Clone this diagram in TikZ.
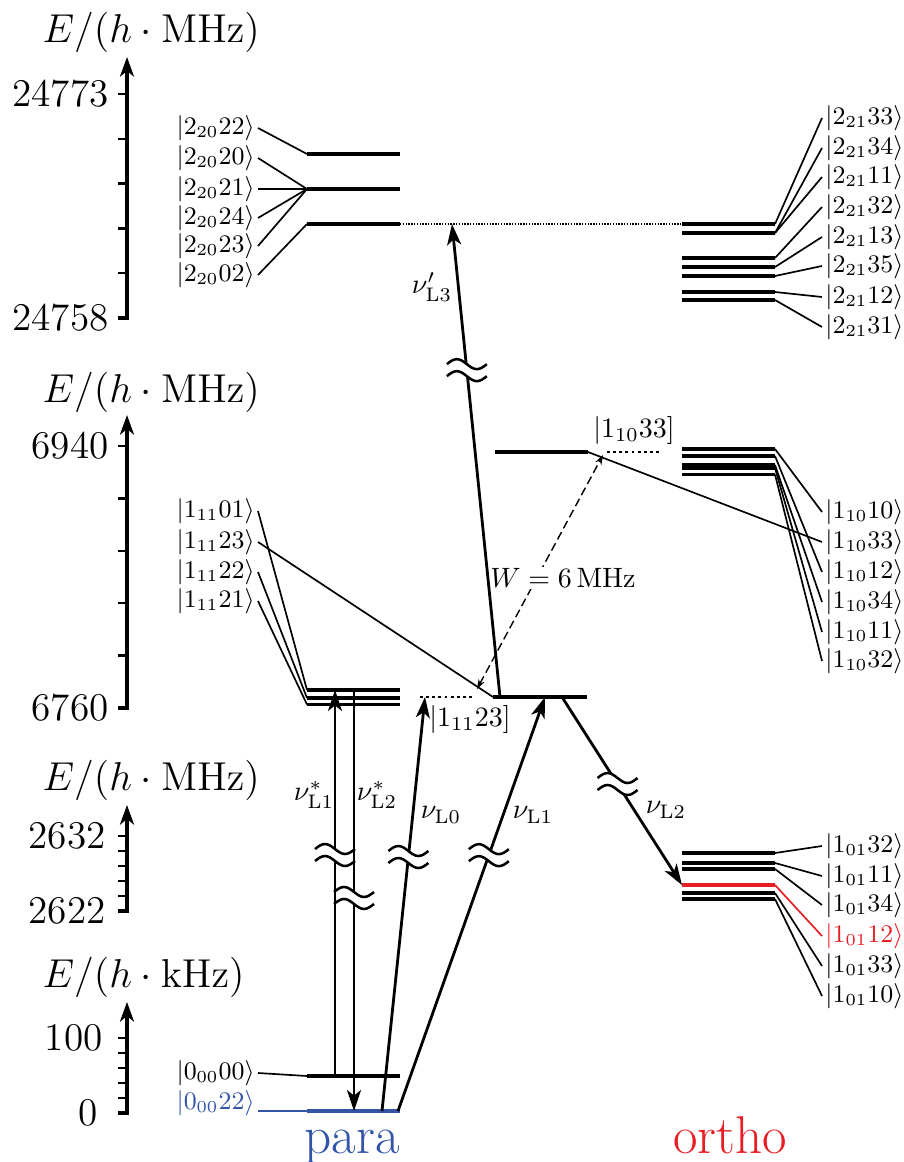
\documentclass[tikz,border=0pt]{standalone}
\usepackage{amsmath,amssymb}
\usepackage{xcolor}
\usepackage{tikz}
\usetikzlibrary{arrows.meta,calc}
\definecolor{paracol}{RGB}{52,84,168}
\definecolor{orthocol}{RGB}{232,30,36}

\begin{document}
\begin{tikzpicture}[
  x=0.3571pt, y=-0.3571pt,
  font=\fontsize{10}{12}\selectfont,
  lvl/.style={line width=1.1pt},
  con/.style={line width=0.6pt},
  ax/.style={line width=1.1pt},
  tk/.style={line width=0.8pt},
  tr/.style={line width=1pt,-{Stealth[length=7.5pt,width=5pt,inset=2pt]}},
  ket/.style={inner sep=1pt,font=\fontsize{9.2}{11}\selectfont},
  num/.style={font=\fontsize{14}{17}\selectfont,anchor=east,inner sep=0pt},
  elab/.style={font=\fontsize{14}{17}\selectfont,anchor=base west,inner sep=0pt},
  dots/.style={line width=1pt,dash pattern=on 1pt off 1.2pt},
  fine/.style={line width=0.5pt,dash pattern=on 0.5pt off 0.5pt},
  wd/.style={line width=0.5pt,dash pattern=on 3pt off 1.5pt,
             {Stealth[length=3.5pt,width=2.4pt]}-{Stealth[length=3.5pt,width=2.4pt]}},
  big/.style={font=\fontsize{19}{22}\selectfont,anchor=base,inner sep=0pt},
  brk/.pic={
    \fill[white] (-8,-10.5) -- (8,-1.5) -- (8,10.5) -- (-8,1.5) -- cycle;
    \draw[line width=0.9pt] (-20,-6) sin (-10,-11) cos (0,-6) sin (10,-1) cos (20,-6)
                            (-20,6) sin (-10,1) cos (0,6) sin (10,11) cos (20,6);
  }
]
\useasboundingbox (0,0) rectangle (904,1162);

%% ---- energy axes ---------------------------------------------------------
\foreach \lo/\st/\tip in {318/44.8/57, 708/52.4/415, 911/15/805, 1113/15/1002}{
  \draw[ax,-{Stealth[length=7pt,width=5pt,inset=2pt]}] (118,\lo) -- (127,\lo) -- (127,\tip);
  \foreach \k in {1,...,5} \draw[tk] (118,{\lo-\k*\st}) -- (127,{\lo-\k*\st});
}
\node[elab] (ea) at (42,43)  {$E/(h\cdot\mathrm{MHz})$};
\node[elab] (eb) at (42,402) {$E/(h\cdot\mathrm{MHz})$};
\node[elab] (ec) at (42,790) {$E/(h\cdot\mathrm{MHz})$};
\node[elab] (ed) at (42,987) {$E/(h\cdot\mathrm{kHz})$};
\node[num] (n1) at (109,94)   {24773};
\node[num] (n2) at (109,318)  {24758};
\node[num] (n3) at (109,446)  {6940};
\node[num] (n4) at (109,708)  {6760};
\node[num] (n5) at (106,836)  {2632};
\node[num] (n6) at (106,911)  {2622};
\node[num] (n7) at (103,1038) {100};
\node[num] (n8) at (98,1113)  {0};

%% ---- 2_20 (para) and 2_21 (ortho) ----------------------------------------
\coordinate (ta) at (307,154);
\coordinate (tb) at (307,189);
\coordinate (tc) at (307,224);
\draw[lvl] (ta) -- +(93,0);
\draw[lvl,line width=1.7pt] (tb) -- +(93,0);
\draw[lvl] (tc) -- +(93,0);
\foreach \q/\y/\c in {22/128/ta, 20/158/tb, 21/189/tb, 24/218/tb, 23/246/tb, 02/275/tc}{
  \node[ket,anchor=east] (pa\q) at (258,\y) {$|2_{20}\q\rangle$};
  \draw[con] (pa\q.east) -- (\c);
}
\foreach \n/\y in {a/224, b/233, c/258, d/267, e/276, f/292, g/300}
  \coordinate (u\n) at (775,\y);
\foreach \n in {a,c,d,e,f,g} \draw[lvl] (u\n) -- +(-93,0);
\draw[lvl,line width=1.6pt] (ub) -- +(-93,0);
\foreach \q/\y/\c in {33/118/ua, 34/148/ub, 11/177/ub, 32/207/uc, 13/237/ud,
                      35/266/ue, 12/297/uf, 31/327/ug}{
  \node[ket,anchor=west] (oa\q) at (822,\y) {$|2_{21}\q\rangle$};
  \draw[con] (\c) -- (oa\q.west);
}
\draw[fine] ($(tc)+(93,0)$) -- ($(ua)+(-93,0)$);

%% ---- 1_11 (para) and 1_10 (ortho) ----------------------------------------
\coordinate (ma) at (307,690);
\coordinate (mb) at (307,698);
\coordinate (mc) at (307,704.5);
\foreach \n in {a,b,c} \draw[lvl] (m\n) -- +(93,0);
\coordinate (mx) at (493,697);
\coordinate (hx) at (495,452);
\coordinate (hy) at (588,452);
\draw[lvl] (mx) -- +(94,0);
\draw[lvl] (hx) -- (hy);
\draw[dots] (420,697) -- (475,697);
\draw[dots] (607,452) -- (660,452);
\node (d23) at (470,719) {$|1_{11}23]$};
\node (d33) at (634,430) {$|1_{10}33]$};
\foreach \q/\y/\c in {01/511/ma, 23/542/mx, 22/572/mb, 21/601/mc}{
  \node[ket,anchor=east] (pb\q) at (258,\y) {$|1_{11}\q\rangle$};
  \draw[con] (pb\q.east) -- (\c);
}
\foreach \n/\y in {a/449, b/456, c/465, d/468, e/474.5}
  \coordinate (v\n) at (775,\y);
\foreach \n in {a,...,e} \draw[lvl] (v\n) -- +(-93,0);
\foreach \q/\y/\c in {10/512/va, 33/542/hy, 12/572/vb, 34/602/vc, 11/632/vd, 32/661/ve}{
  \node[ket,anchor=west] (ob\q) at (822,\y) {$|1_{10}\q\rangle$};
  \draw[con] (\c) -- (ob\q.west);
}

%% ---- 1_01 (ortho) ---------------------------------------------------------
\foreach \n/\y in {a/853, b/863, c/869, d/885, e/893, f/899}
  \coordinate (w\n) at (775,\y);
\foreach \n in {a,b,c,e,f} \draw[lvl] (w\n) -- +(-93,0);
\draw[lvl,orthocol] (wd) -- +(-93,0);
\foreach \q/\y/\c in {32/846/wa, 11/876/wb, 34/905/wc, 33/966/we, 10/996/wf}{
  \node[ket,anchor=west] (oc\q) at (822,\y) {$|1_{01}\q\rangle$};
  \draw[con] (\c) -- (oc\q.west);
}
\node[ket,anchor=west,text=orthocol] (oc12) at (822,936) {$|1_{01}12\rangle$};
\draw[con,orthocol] (wd) -- (oc12.west);

%% ---- 0_00 (para) ----------------------------------------------------------
\coordinate (za) at (307,1076);
\coordinate (zb) at (307,1111);
\draw[lvl] (za) -- +(93,0);
\node[ket,anchor=east] (pc00) at (258,1073) {$|0_{00}00\rangle$};
\draw[con] (pc00.east) -- (za);
\node[ket,anchor=east,text=paracol] (pc22) at (258,1103) {$|0_{00}22\rangle$};
\draw[con,paracol] (pc22.east |- zb) -- (zb);
\draw[lvl,paracol] (zb) -- +(93,0);

\node[big,text=paracol]  (para)  at (352,1153) {para};
\node[big,text=orthocol] (ortho) at (730,1153) {ortho};

%% ---- coupling W -----------------------------------------------------------
\coordinate (wl) at (477,689);
\coordinate (wu) at (603,455);
\draw[wd] (wl) -- (wu);
\node[fill=white,inner sep=0.5pt] (wlab) at (563,578) {$W=6\,\mathrm{MHz}$};

%% ---- laser transitions ----------------------------------------------------
\coordinate (s1) at (335,1076); \coordinate (e1) at (335,690);
\coordinate (s2) at (354,690);  \coordinate (e2) at (354,1111);
\coordinate (s3) at (382,1111); \coordinate (e3) at (425,697);
\coordinate (s4) at (398,1111); \coordinate (e4) at (545,697);
\coordinate (s5) at (562,697);  \coordinate (e5) at (682,885);
\coordinate (s6) at (500,697);  \coordinate (e6) at (452,224);
\foreach \i in {1,...,6} \draw[tr] (s\i) -- (e\i);

\foreach \i/\t in {1/0.5725, 2/0.494, 3/0.6135, 4/0.618, 5/0.4628, 6/0.691}
  \pic at ($(s\i)!\t!(e\i)$) {brk};

\node (l1) at (314,795) {$\nu^{*}_{\mathrm{L}1}$};
\node (l2) at (377,795) {$\nu^{*}_{\mathrm{L}2}$};
\node (l3) at (441,815) {$\nu_{\mathrm{L}0}$};
\node (l4) at (533,815) {$\nu_{\mathrm{L}1}$};
\node (l5) at (666,810) {$\nu_{\mathrm{L}2}$};
\node (l6) at (432,287) {$\nu'_{\mathrm{L}3}$};
\end{tikzpicture}
\end{document}
